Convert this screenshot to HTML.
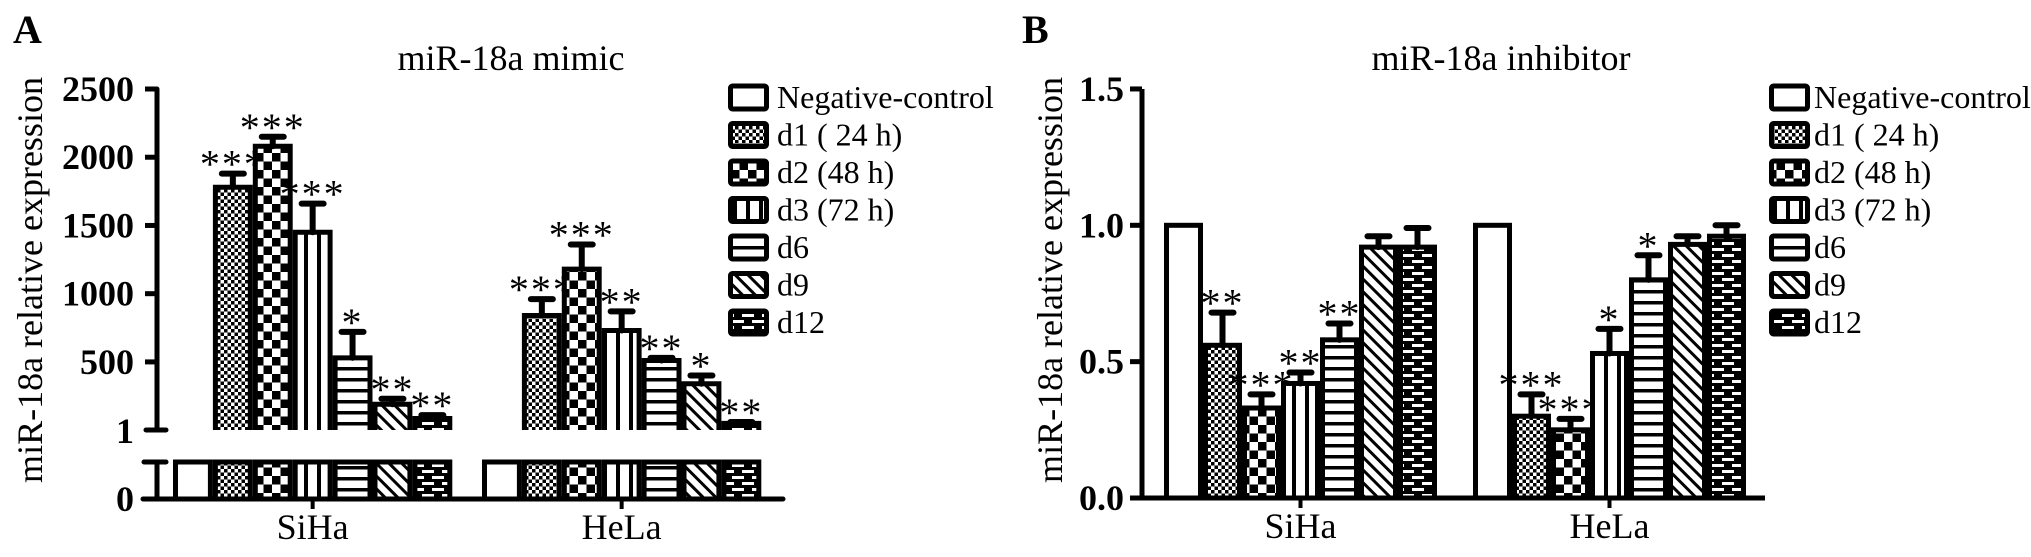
<!DOCTYPE html>
<html><head><meta charset="utf-8"><style>
html,body{margin:0;padding:0;background:#fff;}
svg{display:block;}
text{font-family:"Liberation Serif","Times New Roman",serif;fill:#000;}
</style></head><body>
<svg id="chart" width="2031" height="557" viewBox="0 0 2031 557" xmlns="http://www.w3.org/2000/svg">
<defs>
<pattern id="p0" patternUnits="userSpaceOnUse" width="10" height="10"><rect width="10" height="10" fill="#fff"/></pattern>
<pattern id="p1" patternUnits="userSpaceOnUse" width="7" height="7"><rect width="7" height="7" fill="#fff"/><rect width="3.5" height="3.5" fill="#000"/><rect x="3.5" y="3.5" width="3.5" height="3.5" fill="#000"/></pattern>
<pattern id="p2" patternUnits="userSpaceOnUse" width="17" height="17"><rect width="17" height="17" fill="#fff"/><rect width="8.5" height="8.5" fill="#000"/><rect x="8.5" y="8.5" width="8.5" height="8.5" fill="#000"/></pattern>
<pattern id="p3" patternUnits="userSpaceOnUse" width="13" height="10"><rect width="13" height="10" fill="#fff"/><rect x="5" width="4" height="10" fill="#000"/></pattern>
<pattern id="p4" patternUnits="userSpaceOnUse" width="10" height="11"><rect width="10" height="11" fill="#fff"/><rect y="4" width="10" height="3.5" fill="#000"/></pattern>
<pattern id="p5" patternUnits="userSpaceOnUse" width="9" height="9" patternTransform="rotate(-45)"><rect width="9" height="9" fill="#fff"/><rect width="3" height="9" fill="#000"/></pattern>
<pattern id="p6" patternUnits="userSpaceOnUse" width="20" height="12"><rect width="20" height="12" fill="#000"/><rect x="2" y="2" width="12" height="3" fill="#fff"/><rect x="12" y="8" width="12" height="3" fill="#fff"/><rect x="-8" y="8" width="12" height="3" fill="#fff"/></pattern>
</defs>
<g id="panelA"></g>
<g id="panelB"></g>
</svg>
<script>
const seriesNames = ["Negative-control","d1 ( 24 h)","d2 (48 h)","d3 (72 h)","d6","d9","d12"];
const categories = ["SiHa","HeLa"];
const mimicSiHa = [1, 1780, 2080, 1450, 530, 190, 85];
const mimicSiHaErr = [0, 100, 70, 210, 190, 40, 25];
const mimicHeLa = [1, 840, 1180, 730, 510, 340, 50];
const mimicHeLaErr = [0, 120, 180, 140, 20, 60, 10];
const mimicStarsSiHa = ["", "***", "***", "***", "*", "**", "**"];
const mimicStarsHeLa = ["", "***", "***", "**", "**", "*", "**"];
const mimicTicks = [500, 1000, 1500, 2000, 2500];
const inhSiHa = [1.0, 0.56, 0.33, 0.42, 0.58, 0.92, 0.92];
const inhSiHaErr = [0, 0.12, 0.05, 0.04, 0.06, 0.04, 0.07];
const inhHeLa = [1.0, 0.30, 0.25, 0.53, 0.80, 0.93, 0.96];
const inhHeLaErr = [0, 0.08, 0.04, 0.09, 0.09, 0.03, 0.04];
const inhStarsSiHa = ["", "**", "***", "**", "**", "", ""];
const inhStarsHeLa = ["", "***", "***", "*", "*", "", ""];
const inhTicks = ["0.0", "0.5", "1.0", "1.5"];

const NS = "http://www.w3.org/2000/svg";
function mk(parent, tag, attrs, txt){
  const e = document.createElementNS(NS, tag);
  for (const k in attrs) e.setAttribute(k, attrs[k]);
  if (txt !== undefined) e.textContent = txt;
  parent.appendChild(e);
  return e;
}
const fills = ["url(#p0)","url(#p1)","url(#p2)","url(#p3)","url(#p4)","url(#p5)","url(#p6)"];

/* ---------------- Panel A ---------------- */
const A = document.getElementById('panelA');
const aAxisX = 157, aTop = 89, aOne = 430, aLowTop = 462, aZero = 499;
const aGroupStart = [173, 482];
const aBarW = 39.9;
function yA(v){ return aOne - (v - 1) * (aOne - aTop) / 2499; }

let t = mk(A,'text',{x:13,y:43,'font-size':40,'font-weight':'bold'},'A');
 
t = mk(A,'text',{x:511,y:70,'font-size':36,'text-anchor':'middle'},'miR-18a mimic');
 
t = mk(A,'text',{x:0,y:0,'font-size':36,'text-anchor':'middle',transform:'translate(42,280) rotate(-90)'},'miR-18a relative expression');
 

let ax = mk(A,'path',{d:`M${aAxisX},${aTop} V${aOne} M146,${aOne} H166 M${aAxisX},${aLowTop} V${aZero} M144,${aLowTop} H166 M143,${aZero} H783`,stroke:'#000','stroke-width':5,fill:'none','stroke-linecap':'round'});
 
mimicTicks.forEach(v=>{
  const y = yA(v);
  let l = mk(A,'line',{x1:aAxisX-12,x2:aAxisX,y1:y,y2:y,stroke:'#000','stroke-width':5});
   
  let tx = mk(A,'text',{x:134,y:y+12,'font-size':36,'font-weight':'bold','text-anchor':'end'},String(v));
   
});
t = mk(A,'text',{x:134,y:aOne+13,'font-size':36,'font-weight':'bold','text-anchor':'end'},'1');
 
t = mk(A,'text',{x:134,y:aZero+12,'font-size':36,'font-weight':'bold','text-anchor':'end'},'0');
 

function drawA(vals, errs, stars, gi){
  vals.forEach((v,i)=>{
    const x = aGroupStart[gi] + i*aBarW;
    let r = mk(A,'rect',{x:x+2.5,y:aLowTop,width:aBarW-5,height:aZero-aLowTop,fill:fills[i],stroke:'#000','stroke-width':5});
     
    if (v > 1){
      const y = yA(v);
      let r2 = mk(A,'path',{d:`M${x+2.5},${aOne} V${y} H${x+aBarW-2.5} V${aOne}`,fill:fills[i],stroke:'#000','stroke-width':5});
       
      const ye = yA(v + errs[i]);
      const cx = x + aBarW/2;
      let e = mk(A,'path',{d:`M${cx},${y} V${ye} M${cx-11},${ye} H${cx+11}`,stroke:'#000','stroke-width':6,'stroke-linecap':'round',fill:'none'});
       
      if (stars[i]){
        let s = mk(A,'text',{x:cx,y:ye+4,'font-size':40,'text-anchor':'middle','letter-spacing':'2'},stars[i]);
         
      }
    }
  });
  const tickX = aGroupStart[gi] + 3.5*aBarW;
  let tk = mk(A,'line',{x1:tickX,x2:tickX,y1:aZero,y2:aZero+10,stroke:'#000','stroke-width':4});
   
  let lb = mk(A,'text',{x:tickX,y:aZero+40,'font-size':36,'text-anchor':'middle'},categories[gi]);
   
}
drawA(mimicSiHa, mimicSiHaErr, mimicStarsSiHa, 0);
drawA(mimicHeLa, mimicHeLaErr, mimicStarsHeLa, 1);

function legend(G, bx, tx, name){
  seriesNames.forEach((n,i)=>{
    const cy = 97 + i*37.5;
    let r = mk(G,'rect',{x:bx+2.5,y:cy-11,width:36,height:23,fill:fills[i],stroke:'#000','stroke-width':5,rx:2});
     
    let t = mk(G,'text',{x:tx,y:cy+11,'font-size':32},n);
     
  });
}
legend(A, 728, 777, 'legend-a');

/* ---------------- Panel B ---------------- */
const B = document.getElementById('panelB');
const bAxisX = 1142, bZero = 498, bUnit = 272.7;
const bGroupStart = [1164, 1473];
const bBarW = 39;
function yB(v){ return bZero - v*bUnit; }

t = mk(B,'text',{x:1022,y:43,'font-size':40,'font-weight':'bold'},'B');
 
t = mk(B,'text',{x:1501,y:70,'font-size':36,'text-anchor':'middle'},'miR-18a inhibitor');
 
t = mk(B,'text',{x:0,y:0,'font-size':36,'text-anchor':'middle',transform:'translate(1062,280) rotate(-90)'},'miR-18a relative expression');
 
ax = mk(B,'path',{d:`M${bAxisX},${yB(1.5)} V${bZero} M${bAxisX-12},${bZero} H1765`,stroke:'#000','stroke-width':5,fill:'none'});
 
inhTicks.forEach(s=>{
  const y = yB(parseFloat(s));
  let l = mk(B,'line',{x1:bAxisX-12,x2:bAxisX,y1:y,y2:y,stroke:'#000','stroke-width':5});
   
  let tx = mk(B,'text',{x:1124,y:y+12,'font-size':36,'font-weight':'bold','text-anchor':'end'},s);
   
});
function drawB(vals, errs, stars, gi){
  vals.forEach((v,i)=>{
    const x = bGroupStart[gi] + i*bBarW;
    const y = yB(v);
    let r = mk(B,'rect',{x:x+2.5,y:y,width:bBarW-5,height:bZero-y,fill:fills[i],stroke:'#000','stroke-width':5});
     
    if (errs[i] > 0){
      const ye = yB(v + errs[i]);
      const cx = x + bBarW/2;
      let e = mk(B,'path',{d:`M${cx},${y} V${ye} M${cx-11},${ye} H${cx+11}`,stroke:'#000','stroke-width':6,'stroke-linecap':'round',fill:'none'});
       
      if (stars[i]){
        let s = mk(B,'text',{x:cx,y:ye+4,'font-size':40,'text-anchor':'middle','letter-spacing':'2'},stars[i]);
         
      }
    }
  });
  const tickX = bGroupStart[gi] + 3.5*bBarW;
  let tk = mk(B,'line',{x1:tickX,x2:tickX,y1:bZero,y2:bZero+10,stroke:'#000','stroke-width':4});
   
  let lb = mk(B,'text',{x:tickX,y:bZero+40,'font-size':36,'text-anchor':'middle'},categories[gi]);
   
}
drawB(inhSiHa, inhSiHaErr, inhStarsSiHa, 0);
drawB(inhHeLa, inhHeLaErr, inhStarsHeLa, 1);
legend(B, 1769, 1814, 'legend-b');
</script>
</body></html>
